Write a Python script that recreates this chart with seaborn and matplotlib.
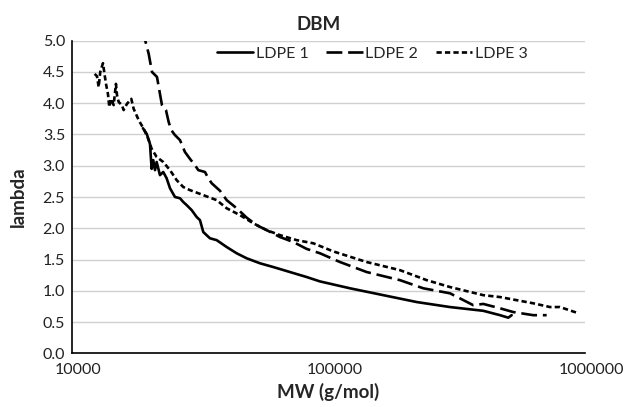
import matplotlib
matplotlib.use("Agg")
import matplotlib.pyplot as plt
import matplotlib.ticker as mticker
import matplotlib.transforms as mtransforms
import pandas as pd
import seaborn as sns

# values (MW in g/mol, lambda)
ldpe1_mw = [18910, 19560, 20140, 20450, 20750, 21070, 21390, 22030, 22690, 23390,
            24110, 25210, 26370, 27160, 28010, 29290, 30630, 31550, 32500, 34510,
            36660, 40100, 43860, 47980, 54060, 60920, 70770, 82220, 92650, 121300,
            163600, 220800, 297600, 401300, 466300, 502300, 517800]
ldpe1_lam = [3.60, 3.51, 3.35, 2.95, 3.09, 2.93, 3.06, 2.85, 2.90, 2.80,
             2.64, 2.50, 2.48, 2.42, 2.37, 2.29, 2.18, 2.13, 1.94, 1.84,
             1.81, 1.70, 1.60, 1.52, 1.44, 1.38, 1.30, 1.22, 1.15, 1.04,
             0.93, 0.82, 0.74, 0.68, 0.61, 0.57, 0.61]

ldpe2_mw = [18990, 19310, 19910, 20510, 21450, 21900, 22430, 23250, 23820, 24390,
            25210, 26370, 27570, 28840, 30160, 31080, 33000, 34000, 35050, 37760,
            40100, 43860, 47980, 52480, 57420, 64700, 72920, 82220, 92650, 110900,
            140900, 190000, 234200, 297600, 366800, 401300, 466300, 525400, 628600,
            709000]
ldpe2_lam = [5.20, 5.00, 4.79, 4.50, 4.42, 4.21, 3.97, 3.89, 3.70, 3.57,
             3.49, 3.41, 3.22, 3.11, 3.01, 2.93, 2.90, 2.80, 2.72, 2.60,
             2.45, 2.32, 2.17, 2.05, 1.97, 1.86, 1.78, 1.67, 1.60, 1.46,
             1.30, 1.17, 1.04, 0.96, 0.77, 0.79, 0.72, 0.66, 0.61,
             0.61]

ldpe3_mw = [12260, 12520, 12710, 12890, 13210, 13410, 13600, 13810, 13980, 14230,
            14540, 14840, 14980, 15210, 15660, 15900, 16380, 17030, 17400, 18200,
            19040, 19840, 20450, 21390, 22690, 24110, 25590, 27160, 28840, 31550,
            34000, 36660, 40100, 45190, 50910, 57420, 64700, 75160, 87230, 104400,
            140900, 190000, 241500, 297600, 401300, 466300, 628600, 730300, 798800,
            928300]
ldpe3_lam = [4.47, 4.43, 4.26, 4.50, 4.64, 4.45, 4.29, 4.15, 3.94, 4.07,
             3.97, 4.31, 4.13, 4.02, 3.97, 3.89, 3.99, 4.07, 3.91, 3.73,
             3.59, 3.43, 3.27, 3.14, 3.06, 2.93, 2.77, 2.66, 2.61, 2.55,
             2.50, 2.45, 2.32, 2.21, 2.08, 1.97, 1.89, 1.81, 1.76, 1.63,
             1.46, 1.33, 1.17, 1.06, 0.93, 0.90, 0.80, 0.74, 0.74,
             0.65]

series_names = ["LDPE 1", "LDPE 2", "LDPE 3"]
y_ticks = [0.0, 0.5, 1.0, 1.5, 2.0, 2.5, 3.0, 3.5, 4.0, 4.5, 5.0]
x_ticks = [10000, 100000, 1000000]

frames = []
for name, mw, lam in zip(series_names, [ldpe1_mw, ldpe2_mw, ldpe3_mw],
                         [ldpe1_lam, ldpe2_lam, ldpe3_lam]):
    frames.append(pd.DataFrame({"MW": mw, "lambda": lam, "sample": name}))
df = pd.concat(frames, ignore_index=True)

sns.set_style("white")
plt.rcParams["font.family"] = ["Lato", "DejaVu Sans"]

fig = plt.figure(figsize=(6.28, 4.07), dpi=100)
ax = fig.add_axes([0.1146, 0.1319, 0.8169, 0.7681])

sns.lineplot(
    data=df, x="MW", y="lambda", style="sample", color="black",
    dashes={"LDPE 1": "", "LDPE 2": (6, 2.2), "LDPE 3": (2, 1.2)},
    estimator=None, sort=False, linewidth=1.9, ax=ax,
)

ax.set_xscale("log")
ax.set_xlim(10000, 1000000)
ax.set_ylim(0, 5)
ax.set_xticks(x_ticks)
ax.xaxis.set_major_formatter(mticker.FuncFormatter(lambda v, _: f"{int(round(v))}"))
ax.xaxis.set_minor_locator(mticker.NullLocator())
ax.set_yticks(y_ticks)
ax.yaxis.set_major_formatter(mticker.FormatStrFormatter("%.1f"))
ax.tick_params(axis="both", length=0, labelsize=11.5, colors="#222222")
ax.tick_params(axis="x", pad=7)
ax.tick_params(axis="y", pad=5)

# excel puts the category labels a few pixels right of the tick
shift = mtransforms.ScaledTranslation(6 / 100, 0, fig.dpi_scale_trans)
for lab in ax.get_xticklabels():
    lab.set_transform(lab.get_transform() + shift)

ax.grid(axis="y", color="#d0d0d0", linewidth=1.0)
ax.grid(axis="x", visible=False)
for side in ["top", "right"]:
    ax.spines[side].set_visible(False)
for side in ["left", "bottom"]:
    ax.spines[side].set_color("black")
    ax.spines[side].set_linewidth(1.2)

ax.set_xlabel("MW (g/mol)", fontsize=13.5, fontweight="bold", labelpad=4)
ax.set_ylabel("lambda", fontsize=13.5, fontweight="bold", labelpad=11)
fig.text(0.508, 0.940, "DBM", ha="center", va="center", fontsize=13.5, fontweight="bold")

handles, labels = ax.get_legend_handles_labels()
ax.legend(handles, labels, loc="center", bbox_to_anchor=(0.585, 0.958), ncol=3,
          frameon=False, fontsize=11.5, handlelength=2.3, handletextpad=0.15,
          columnspacing=1.1, borderaxespad=0)

fig.savefig("out.png", dpi=100)
